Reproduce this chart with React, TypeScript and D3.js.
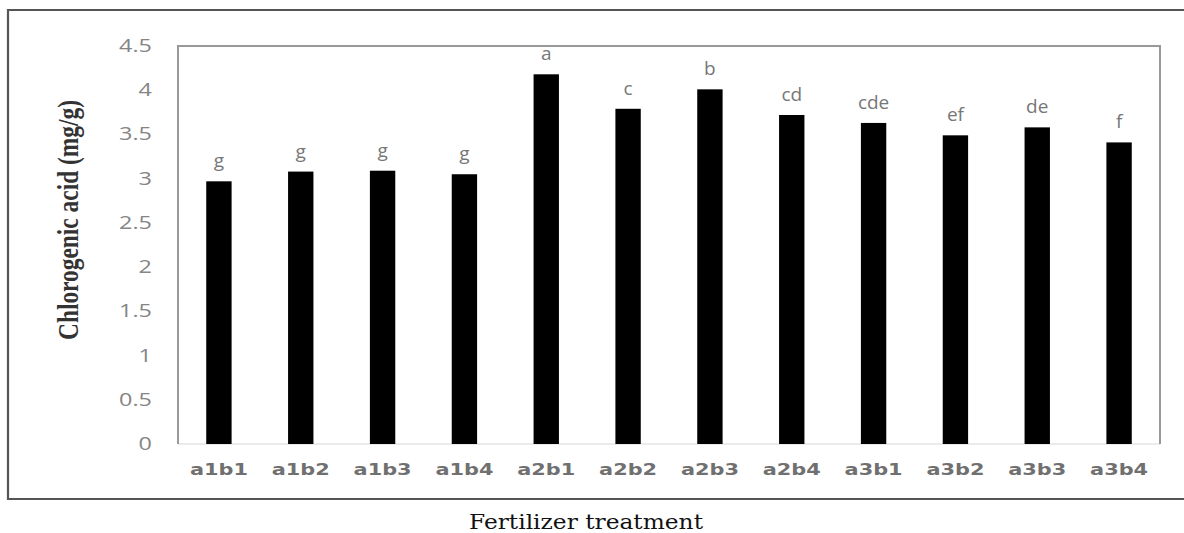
import React from "react";
import * as d3 from "d3";

const categories = ["a1b1", "a1b2", "a1b3", "a1b4", "a2b1", "a2b2", "a2b3", "a2b4", "a3b1", "a3b2", "a3b3", "a3b4"];
const values = [2.97, 3.08, 3.09, 3.05, 4.18, 3.79, 4.01, 3.72, 3.63, 3.49, 3.58, 3.41];
const letters = ["g", "g", "g", "g", "a", "c", "b", "cd", "cde", "ef", "de", "f"];
const yTicks = [0, 0.5, 1, 1.5, 2, 2.5, 3, 3.5, 4, 4.5];

const W = 1184;
const H = 533;
const plot = { left: 178, top: 46, right: 1160, bottom: 444 };

export default function App() {
  const x = d3
    .scaleBand<string>()
    .domain(categories)
    .range([plot.left, plot.right])
    .paddingInner(0.69)
    .paddingOuter(0.345);
  const y = d3.scaleLinear().domain([0, 4.5]).range([plot.bottom, plot.top]);

  return (
    <svg
      width={W}
      height={H}
      style={{ position: "absolute", left: 0, top: 0, background: "#fff" }}
    >
      <rect x={0} y={0} width={W} height={H} fill="#fff" />
      {/* outer frame */}
      <path d={`M1190,10 H8 V499 H1190`} fill="none" stroke="#555" strokeWidth={2.2} />
      {/* plot frame */}
      <line x1={plot.left} x2={plot.right} y1={plot.bottom} y2={plot.bottom} stroke="#e4e4e4" strokeWidth={1.5} />
      <path
        d={`M${plot.left},${plot.bottom} V${plot.top} H${plot.right} V${plot.bottom}`}
        fill="none"
        stroke="#999"
        strokeWidth={2}
      />
      {/* y ticks */}
      {yTicks.map((t) => (
        <text
          key={t}
          transform={`translate(152,${y(t) + 6}) scale(1.3,1)`}
          textAnchor="end"
          fontFamily="'Open Sans', sans-serif"
          fontSize={18}
          fill="#858585"
        >
          {String(t)}
        </text>
      ))}
      {/* bars */}
      {categories.map((c, i) => (
        <rect
          key={c}
          x={x(c)}
          y={y(values[i])}
          width={x.bandwidth()}
          height={plot.bottom - y(values[i])}
          fill="#000"
        />
      ))}
      {/* significance letters */}
      {categories.map((c, i) => (
        <text
          key={c + "l"}
          x={(x(c) as number) + x.bandwidth() / 2}
          y={y(values[i]) - 14}
          textAnchor="middle"
          fontFamily="'Open Sans', sans-serif"
          fontSize={19}
          fill="#777"
        >
          {letters[i]}
        </text>
      ))}
      {/* x labels */}
      {categories.map((c) => (
        <text
          key={c + "x"}
          x={(x(c) as number) + x.bandwidth() / 2}
          y={475}
          textAnchor="middle"
          fontFamily="'DejaVu Sans', sans-serif"
          fontWeight="bold"
          fontSize={15}
          fill="#707070"
          textLength={58}
          lengthAdjust="spacingAndGlyphs"
        >
          {c}
        </text>
      ))}
      {/* axis titles */}
      <text
        x={586}
        y={529}
        textAnchor="middle"
        fontFamily="'DejaVu Serif', serif"
        fontSize={20}
        fill="#111"
        textLength={234}
        lengthAdjust="spacingAndGlyphs"
      >
        Fertilizer treatment
      </text>
      <text
        transform={`translate(78,220) rotate(-90)`}
        textAnchor="middle"
        fontFamily="'Liberation Serif', serif"
        fontWeight="bold"
        fontSize={29}
        fill="#333"
        textLength={240}
        lengthAdjust="spacingAndGlyphs"
      >
        Chlorogenic acid (mg/g)
      </text>
    </svg>
  );
}
